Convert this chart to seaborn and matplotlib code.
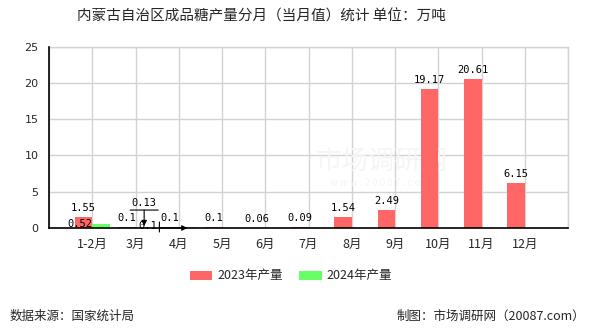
import numpy as np
import pandas as pd
import matplotlib
matplotlib.use("Agg")
import matplotlib.pyplot as plt
from matplotlib.transforms import offset_copy
from matplotlib.patches import Patch
import seaborn as sns

# ---- data ----
months = ['1-2月', '3月', '4月', '5月', '6月', '7月', '8月', '9月', '10月', '11月', '12月']
v2023 = [1.55, 0.1, 0.1, 0.1, 0.06, 0.09, 1.54, 2.49, 19.17, 20.61, 6.15]
v2024 = [0.52, 0.13, 0.1, np.nan, np.nan, np.nan, np.nan, np.nan, np.nan, np.nan, np.nan]
series = ['2023年产量', '2024年产量']
colors = ['#ff6666', '#66ff66']
yticks = [0, 5, 10, 15, 20, 25]

sns.set_theme(style='white')
plt.rcParams['font.family'] = ['Noto Sans CJK SC', 'DejaVu Sans']
plt.rcParams['axes.unicode_minus'] = False

df = pd.DataFrame({
    'month': months * 2,
    'value': v2023 + v2024,
    'series': [series[0]] * len(months) + [series[1]] * len(months),
})

W, H = 590, 330
fig = plt.figure(figsize=(W / 100, H / 100), dpi=100)
ax = fig.add_axes([49 / W, 1 - 228 / H, (568 - 49) / W, (228 - 46.7) / H])

sns.barplot(data=df, x='month', y='value', hue='series', order=months,
            hue_order=series, palette=colors, width=0.8, dodge=True,
            saturation=1, ax=ax, legend=False, zorder=3, linewidth=0)

n = len(months)
ax.set_xlim(-1, n)
ax.set_ylim(0, 25)
ax.set_yticks(yticks)
ax.set_yticklabels([str(t) for t in yticks], fontsize=8, family='DejaVu Sans')
ax.set_xticks(range(-1, n + 1))
ax.set_xticklabels([''] + months + [''], fontsize=9)
ax.set_xlabel('')
ax.set_ylabel('')

ax.grid(True, axis='both', color='#d3d3d3', linewidth=1, zorder=0)
ax.set_axisbelow(True)
for s in ['top', 'right']:
    ax.spines[s].set_color('#d3d3d3')
    ax.spines[s].set_linewidth(1)
for s in ['left', 'bottom']:
    ax.spines[s].set_color('black')
    ax.spines[s].set_linewidth(1.2)
    ax.spines[s].set_zorder(5)
ax.tick_params(axis='y', direction='out', length=6, width=1, color='black', pad=1.5)
ax.tick_params(axis='x', direction='out', length=4, width=1, color='black', pad=3)

# watermark
ax.text(0.64, 0.37, '市场调研网', transform=ax.transAxes, fontsize=19,
        color='#f5f5f5', ha='center', va='center', zorder=1)
ax.text(0.64, 0.25, 'w w w . 2 0 0 8 7 . c o m', transform=ax.transAxes, fontsize=7,
        color='#f5f5f5', ha='center', va='center', zorder=1)

lab_kw = dict(textcoords='offset pixels', ha='center', fontsize=7.5,
              family='DejaVu Sans Mono', color='black', zorder=6)


def fmt(v):
    return '%g' % v


def seg(x, y, p0, p1, style='-'):
    """Line/arrow between two pixel offsets from a data point."""
    t0 = offset_copy(ax.transData, fig=fig, x=p0[0], y=p0[1], units='dots')
    t1 = offset_copy(ax.transData, fig=fig, x=p1[0], y=p1[1], units='dots')
    ax.annotate('', xy=(x, y), xycoords=t1, xytext=(x, y), textcoords=t0,
                arrowprops=dict(arrowstyle=style, color='black', lw=0.8,
                                shrinkA=0, shrinkB=0, mutation_scale=8),
                zorder=6, annotation_clip=False)


# 2023 labels
for i, v in enumerate(v2023):
    ax.annotate(fmt(v), xy=(i - 0.2, v), xytext=(0, 4), va='bottom', **lab_kw)

# 2024 labels (displaced as in reference)
ax.annotate(fmt(v2024[0]), xy=(0.2, v2024[0]), xytext=(-21, 0), va='center', **lab_kw)

ax.annotate(fmt(v2024[1]), xy=(1.2, v2024[1]), xytext=(0, 24), va='center', **lab_kw)
seg(1.2, v2024[1], (-14, 17), (14, 17))
seg(1.2, v2024[1], (0, 17), (0, 1), '-|>')

ax.annotate(fmt(v2024[2]), xy=(2.2, v2024[2]), xytext=(-40, 1), va='center', **lab_kw)
seg(2.2, 0, (-28, 6), (-28, -4))
seg(2.2, 0, (-28, 0), (0, 0), '-|>')

# legend
handles = [Patch(facecolor=c, edgecolor='none', label=s) for c, s in zip(colors, series)]
fig.legend(handles=handles, loc='center', bbox_to_anchor=(291 / W, 1 - 276 / H), ncol=2,
           frameon=False, fontsize=9, handlelength=1.8, handleheight=0.7,
           handletextpad=0.4, columnspacing=1.3)

fig.text(261 / W, 1 - 17 / H, '内蒙古自治区成品糖产量分月（当月值）统计 单位：万吨',
         ha='center', va='center', fontsize=10.5)
fig.text(10 / W, 1 - 316 / H, '数据来源：国家统计局', ha='left', va='center', fontsize=9)
fig.text(585 / W, 1 - 316 / H, '制图：市场调研网（20087.com）', ha='right', va='center', fontsize=9)

fig.savefig('out.png', dpi=100)
